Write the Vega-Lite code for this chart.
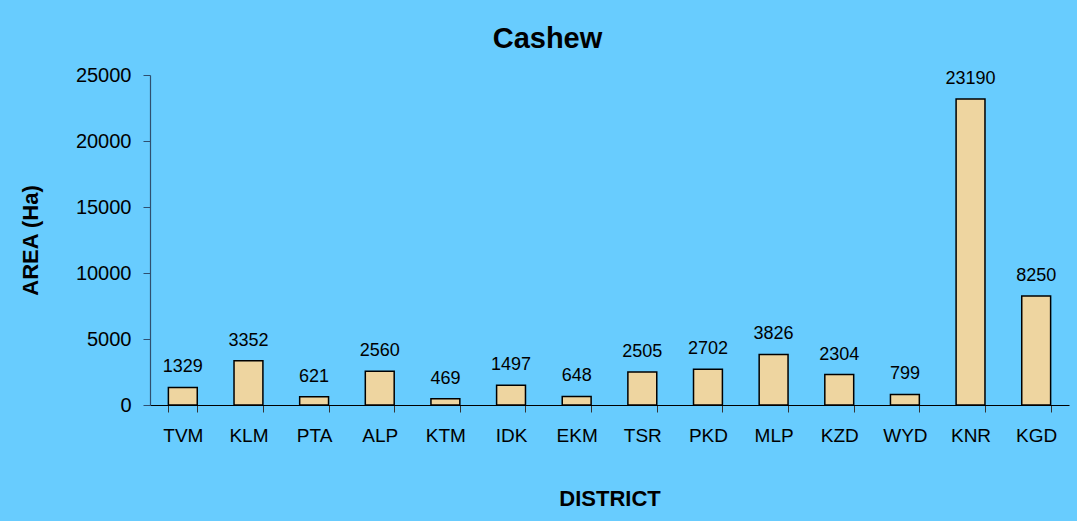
{
  "$schema": "https://vega.github.io/schema/vega-lite/v6.json",
  "autosize": {"type": "none"},
  "width": 919,
  "height": 330,
  "padding": {"left": 150, "top": 75, "right": 8, "bottom": 116},
  "background": "#68CCFE",
  "title": {
    "text": "Cashew",
    "font": "Liberation Sans",
    "fontSize": 29,
    "fontWeight": "bold",
    "color": "#000000",
    "anchor": "middle",
    "dx": -62,
    "offset": 11
  },
  "data": {
    "values": [
      {"district": "TVM", "area": 1329},
      {"district": "KLM", "area": 3352},
      {"district": "PTA", "area": 621},
      {"district": "ALP", "area": 2560},
      {"district": "KTM", "area": 469},
      {"district": "IDK", "area": 1497},
      {"district": "EKM", "area": 648},
      {"district": "TSR", "area": 2505},
      {"district": "PKD", "area": 2702},
      {"district": "MLP", "area": 3826},
      {"district": "KZD", "area": 2304},
      {"district": "WYD", "area": 799},
      {"district": "KNR", "area": 23190},
      {"district": "KGD", "area": 8250}
    ]
  },
  "encoding": {
    "x": {
      "field": "district",
      "type": "nominal",
      "sort": null,
      "scale": {"paddingInner": 0.56, "paddingOuter": 0.28},
      "axis": {
        "title": "DISTRICT",
        "labelAngle": 0,
        "tickBand": "extent",
        "tickSize": 7,
        "labelPadding": 14,
        "labelFontSize": 19,
        "titlePadding": 43,
        "domainColor": "#000000",
        "tickColor": "#333333"
      }
    },
    "y": {
      "field": "area",
      "type": "quantitative",
      "scale": {"domain": [0, 25000], "nice": false},
      "axis": {
        "title": "AREA (Ha)",
        "values": [0, 5000, 10000, 15000, 20000, 25000],
        "format": "d",
        "grid": false,
        "tickSize": 7,
        "labelPadding": 12,
        "labelFontSize": 20,
        "titlePadding": 33,
        "domainColor": "#2F4F6F",
        "tickColor": "#2F4F6F"
      }
    }
  },
  "layer": [
    {
      "mark": {"type": "bar", "fill": "#EED5A0", "stroke": "#000000", "strokeWidth": 1.5}
    },
    {
      "mark": {"type": "text", "baseline": "alphabetic", "dy": -15, "font": "Liberation Sans", "fontSize": 18, "color": "#000000"},
      "encoding": {"text": {"field": "area", "type": "quantitative", "format": "d"}}
    }
  ],
  "config": {
    "view": {"stroke": null},
    "axis": {
      "labelFont": "Liberation Sans",
      "labelColor": "#000000",
      "titleFont": "Liberation Sans",
      "titleFontSize": 22,
      "titleFontWeight": "bold",
      "titleColor": "#000000",
      "domainWidth": 1.2
    }
  }
}
